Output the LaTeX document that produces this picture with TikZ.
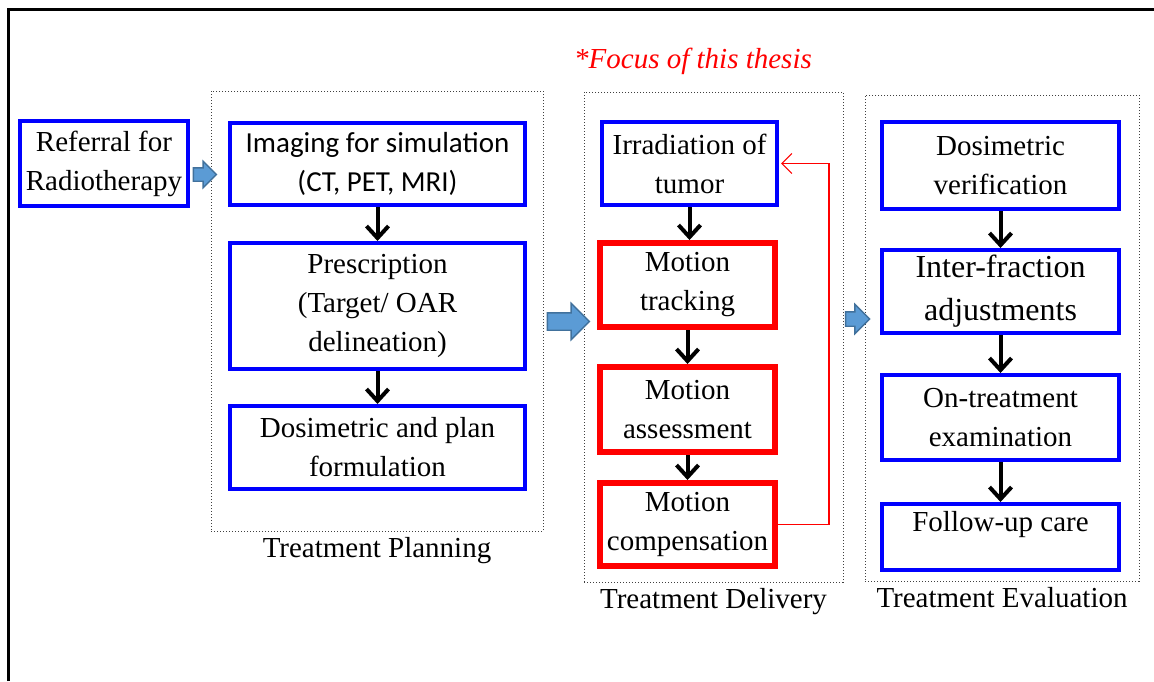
\documentclass[tikz,border=0pt]{standalone}
\usepackage{fontspec}
\setmainfont{Liberation Serif}
\newfontfamily\calibrifont{Carlito}
\usepackage{xcolor}
\usetikzlibrary{arrows.meta,calc,positioning,shapes.arrows}
\definecolor{arrowfill}{RGB}{91,155,213}
\definecolor{arrowline}{RGB}{65,113,156}

\begin{document}
\begin{tikzpicture}[>=latex,x=0.5pt,y=-0.5pt]
\tikzstyle{bluebox}=[rectangle,draw=blue,line width=2pt,fill=white,align=center,
                     inner sep=0pt,font=\fontsize{14.5}{19.5}\selectfont]
\tikzstyle{redbox}=[bluebox,draw=red,line width=3pt]
\tikzstyle{stage}=[rectangle,draw=black!75,densely dotted,line width=0.5pt]
\tikzstyle{stagelabel}=[inner sep=0pt,font=\fontsize{14.5}{19.5}\selectfont]
\tikzstyle{arrow}=[-{Straight Barb[length=6pt,width=11pt]},line width=2pt,black]
\tikzstyle{bigarrow}=[single arrow,draw=arrowline,fill=arrowfill,line width=0.7pt,
                      inner xsep=0pt]
\tikzstyle{feedback}=[-{Straight Barb[length=5pt,width=10pt]},red,line width=0.6pt]

\useasboundingbox (0,0) rectangle (1154,681);
% --- outer frame (cut by the page) ---
\draw[line width=1.5pt] (8,681) -- (8,9) -- (1154,9);

% --- stages ---
\node[stage,minimum width=166pt,minimum height=220pt] (planning) at (377,311) {};
\node[stage,minimum width=129.5pt,minimum height=245pt] (delivery) at (713.5,337) {};
\node[stage,minimum width=137pt,minimum height=243pt] (evaluation) at (1002,338) {};

\node[stagelabel,below=2.5pt of planning] (planlabel) {Treatment Planning};
\node[stagelabel,below=2.5pt of delivery] (deliverylabel) {Treatment Delivery};
\node[stagelabel,below=2.5pt of evaluation] (evallabel) {Treatment Evaluation};
\node[stagelabel,text=red,font=\itshape\fontsize{14.5}{19.5}\selectfont] (focus) at (693,61)
  {*Focus of this thesis};

% --- referral ---
\node[bluebox,minimum width=84pt,minimum height=42.5pt] (referral) at (104,163.5)
  {Referral for\\Radiotherapy};

% --- treatment planning ---
\node[bluebox,minimum width=147.5pt,minimum height=41pt,
      font=\calibrifont\fontsize{14.5}{19.5}\selectfont] (imaging) at (377.5,164)
  {Imaging for simulation\\(CT, PET, MRI)};
\node[bluebox,minimum width=147.5pt,minimum height=63pt] (prescription) at (377.5,306)
  {Prescription\\(Target/ OAR\\delineation)};
\node[bluebox,minimum width=147.5pt,minimum height=41.5pt] (dosimetry) at (377.5,447.5)
  {Dosimetric and plan\\formulation};

% --- treatment delivery ---
\node[bluebox,minimum width=87.5pt,minimum height=41.5pt] (irradiation) at (689.5,163.5)
  {Irradiation of\\tumor};
\node[redbox,minimum width=87.5pt,minimum height=42pt] (tracking) at (687.5,285)
  {Motion\\tracking};
\node[redbox,minimum width=87.5pt,minimum height=42.5pt] (assessment) at (687.5,409.5)
  {Motion\\assessment};
\node[redbox,minimum width=87.5pt,minimum height=41.5pt] (compensation) at (687.5,524.5)
  {Motion\\compensation};

% --- treatment evaluation ---
\node[bluebox,minimum width=118.5pt,minimum height=43.5pt] (verification) at (1000.5,165.5)
  {Dosimetric\\verification};
\node[bluebox,minimum width=118.5pt,minimum height=41.5pt,
      font=\fontsize{16}{21.5}\selectfont] (adjustments) at (1000.5,291.5)
  {Inter-fraction\\adjustments};
\node[bluebox,minimum width=118.5pt,minimum height=42.5pt] (examination) at (1000.5,417.5)
  {On-treatment\\examination};
\node[bluebox,minimum width=118.5pt,minimum height=33pt,text height=10pt,text depth=16pt]
  (followup) at (1000.5,537) {Follow-up care};

% --- block arrows between stages ---
\node[bigarrow,inner ysep=3pt,minimum height=11.5pt,minimum width=12.5pt,
      single arrow head extend=3.25pt] (toplanning) at (201.5,174.5) {};
\node[bigarrow,inner ysep=4pt,minimum height=21pt,minimum width=17.5pt,
      single arrow head extend=4.75pt] (todelivery) at (564,321.5) {};
\node[bigarrow,inner ysep=3.25pt,minimum height=12pt,minimum width=14pt,
      single arrow head extend=3.75pt] (toevaluation) at (854,319) {};

% --- arrows ---
\draw[arrow] (imaging.south) -- (prescription.north);
\draw[arrow] (prescription.south) -- (dosimetry.north);
\draw[arrow] (irradiation.south) -- (irradiation.south |- tracking.north);
\draw[arrow] (tracking.south) -- (assessment.north);
\draw[arrow] (assessment.south) -- (compensation.north);
\draw[arrow] (verification.south) -- (adjustments.north);
\draw[arrow] (adjustments.south) -- (examination.north);
\draw[arrow] (examination.south) -- (followup.north);
\draw[feedback,shorten >=1pt] (compensation.east) -| ([xshift=25pt]irradiation.east)
  -- (irradiation.east);

\end{tikzpicture}
\end{document}
